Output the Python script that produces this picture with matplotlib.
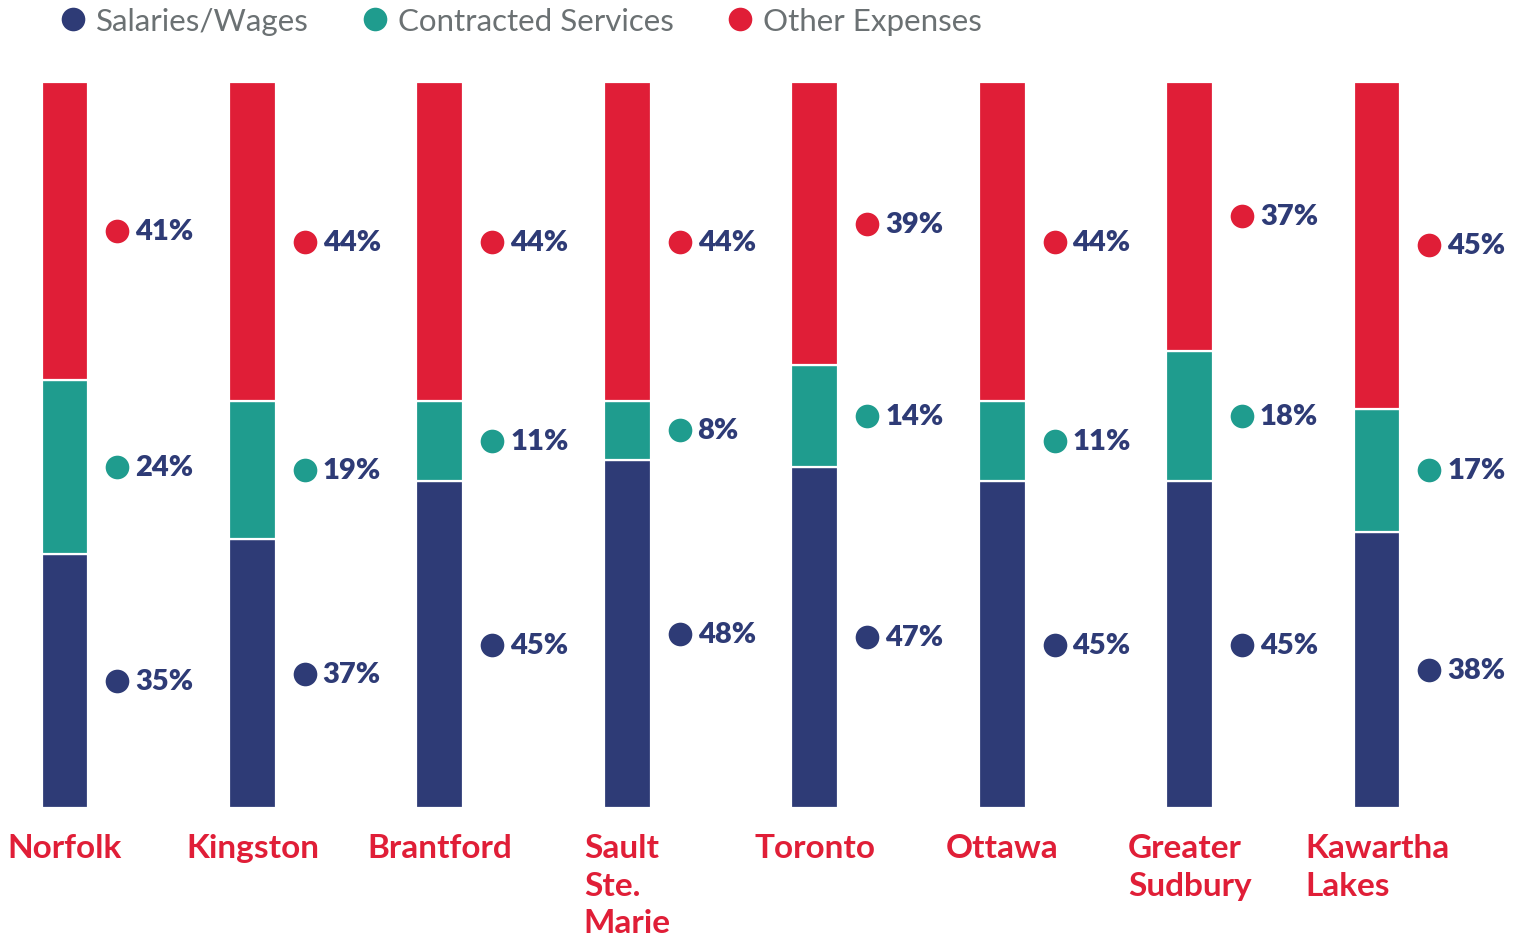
import numpy as np
import matplotlib.pyplot as plt
from matplotlib.lines import Line2D

# データ
cities = ['Norfolk', 'Kingston', 'Brantford', 'Sault\nSte.\nMarie', 'Toronto',
          'Ottawa', 'Greater\nSudbury', 'Kawartha\nLakes']
salaries = [35, 37, 45, 48, 47, 45, 45, 38]
contracted = [24, 19, 11, 8, 14, 11, 18, 17]
other = [41, 44, 44, 44, 39, 44, 37, 45]
series_names = ['Salaries/Wages', 'Contracted Services', 'Other Expenses']

NAVY = '#2e3b76'
TEAL = '#1f9c8e'
RED = '#e01e37'
GRAY = '#6b7173'
colors = [NAVY, TEAL, RED]

fig = plt.figure(figsize=(15.25, 9.37), dpi=100)
ax = fig.add_axes([0, 128 / 937, 1, 726 / 937])

x = np.arange(len(cities))
bar_w = 0.25
bottom = np.zeros(len(cities))
for vals, col in zip([salaries, contracted, other], colors):
    vals = np.array(vals)
    ax.bar(x, vals, bottom=bottom, width=bar_w, color=col,
           edgecolor='white', linewidth=1.6)
    # ラベル（点 + パーセント）
    centers = bottom + vals / 2
    ax.scatter(x + 0.28, centers, s=290, color=col, zorder=3, linewidths=0)
    for xi, yc, v in zip(x, centers, vals):
        ax.text(xi + 0.375, yc, f'{v}%', color=NAVY, fontsize=21,
                fontweight='heavy', family='Lato', va='center', ha='left')
    bottom = bottom + vals

# 都市名
for xi, name in zip(x, cities):
    ax.text(xi, -3.4, name, color=RED, fontsize=24, family='Lato',
            fontweight='bold', ha='center', va='top', multialignment='left',
            linespacing=1.37)

ax.set_xlim(-65 / 187.43, (1525 - 65) / 187.43)
ax.set_ylim(0, 100)
ax.axis('off')

handles = [Line2D([], [], marker='o', linestyle='', markersize=17,
                  markerfacecolor=c, markeredgewidth=0) for c in colors]
leg = fig.legend(handles, series_names, loc='center left',
                 bbox_to_anchor=(0.019, 1 - 22 / 937), ncol=3, frameon=False,
                 handletextpad=0.25, columnspacing=1.6, handlelength=1.0,
                 prop={'family': 'Lato', 'size': 22.5})
for t in leg.get_texts():
    t.set_color(GRAY)

fig.savefig('out.png', dpi=100)
